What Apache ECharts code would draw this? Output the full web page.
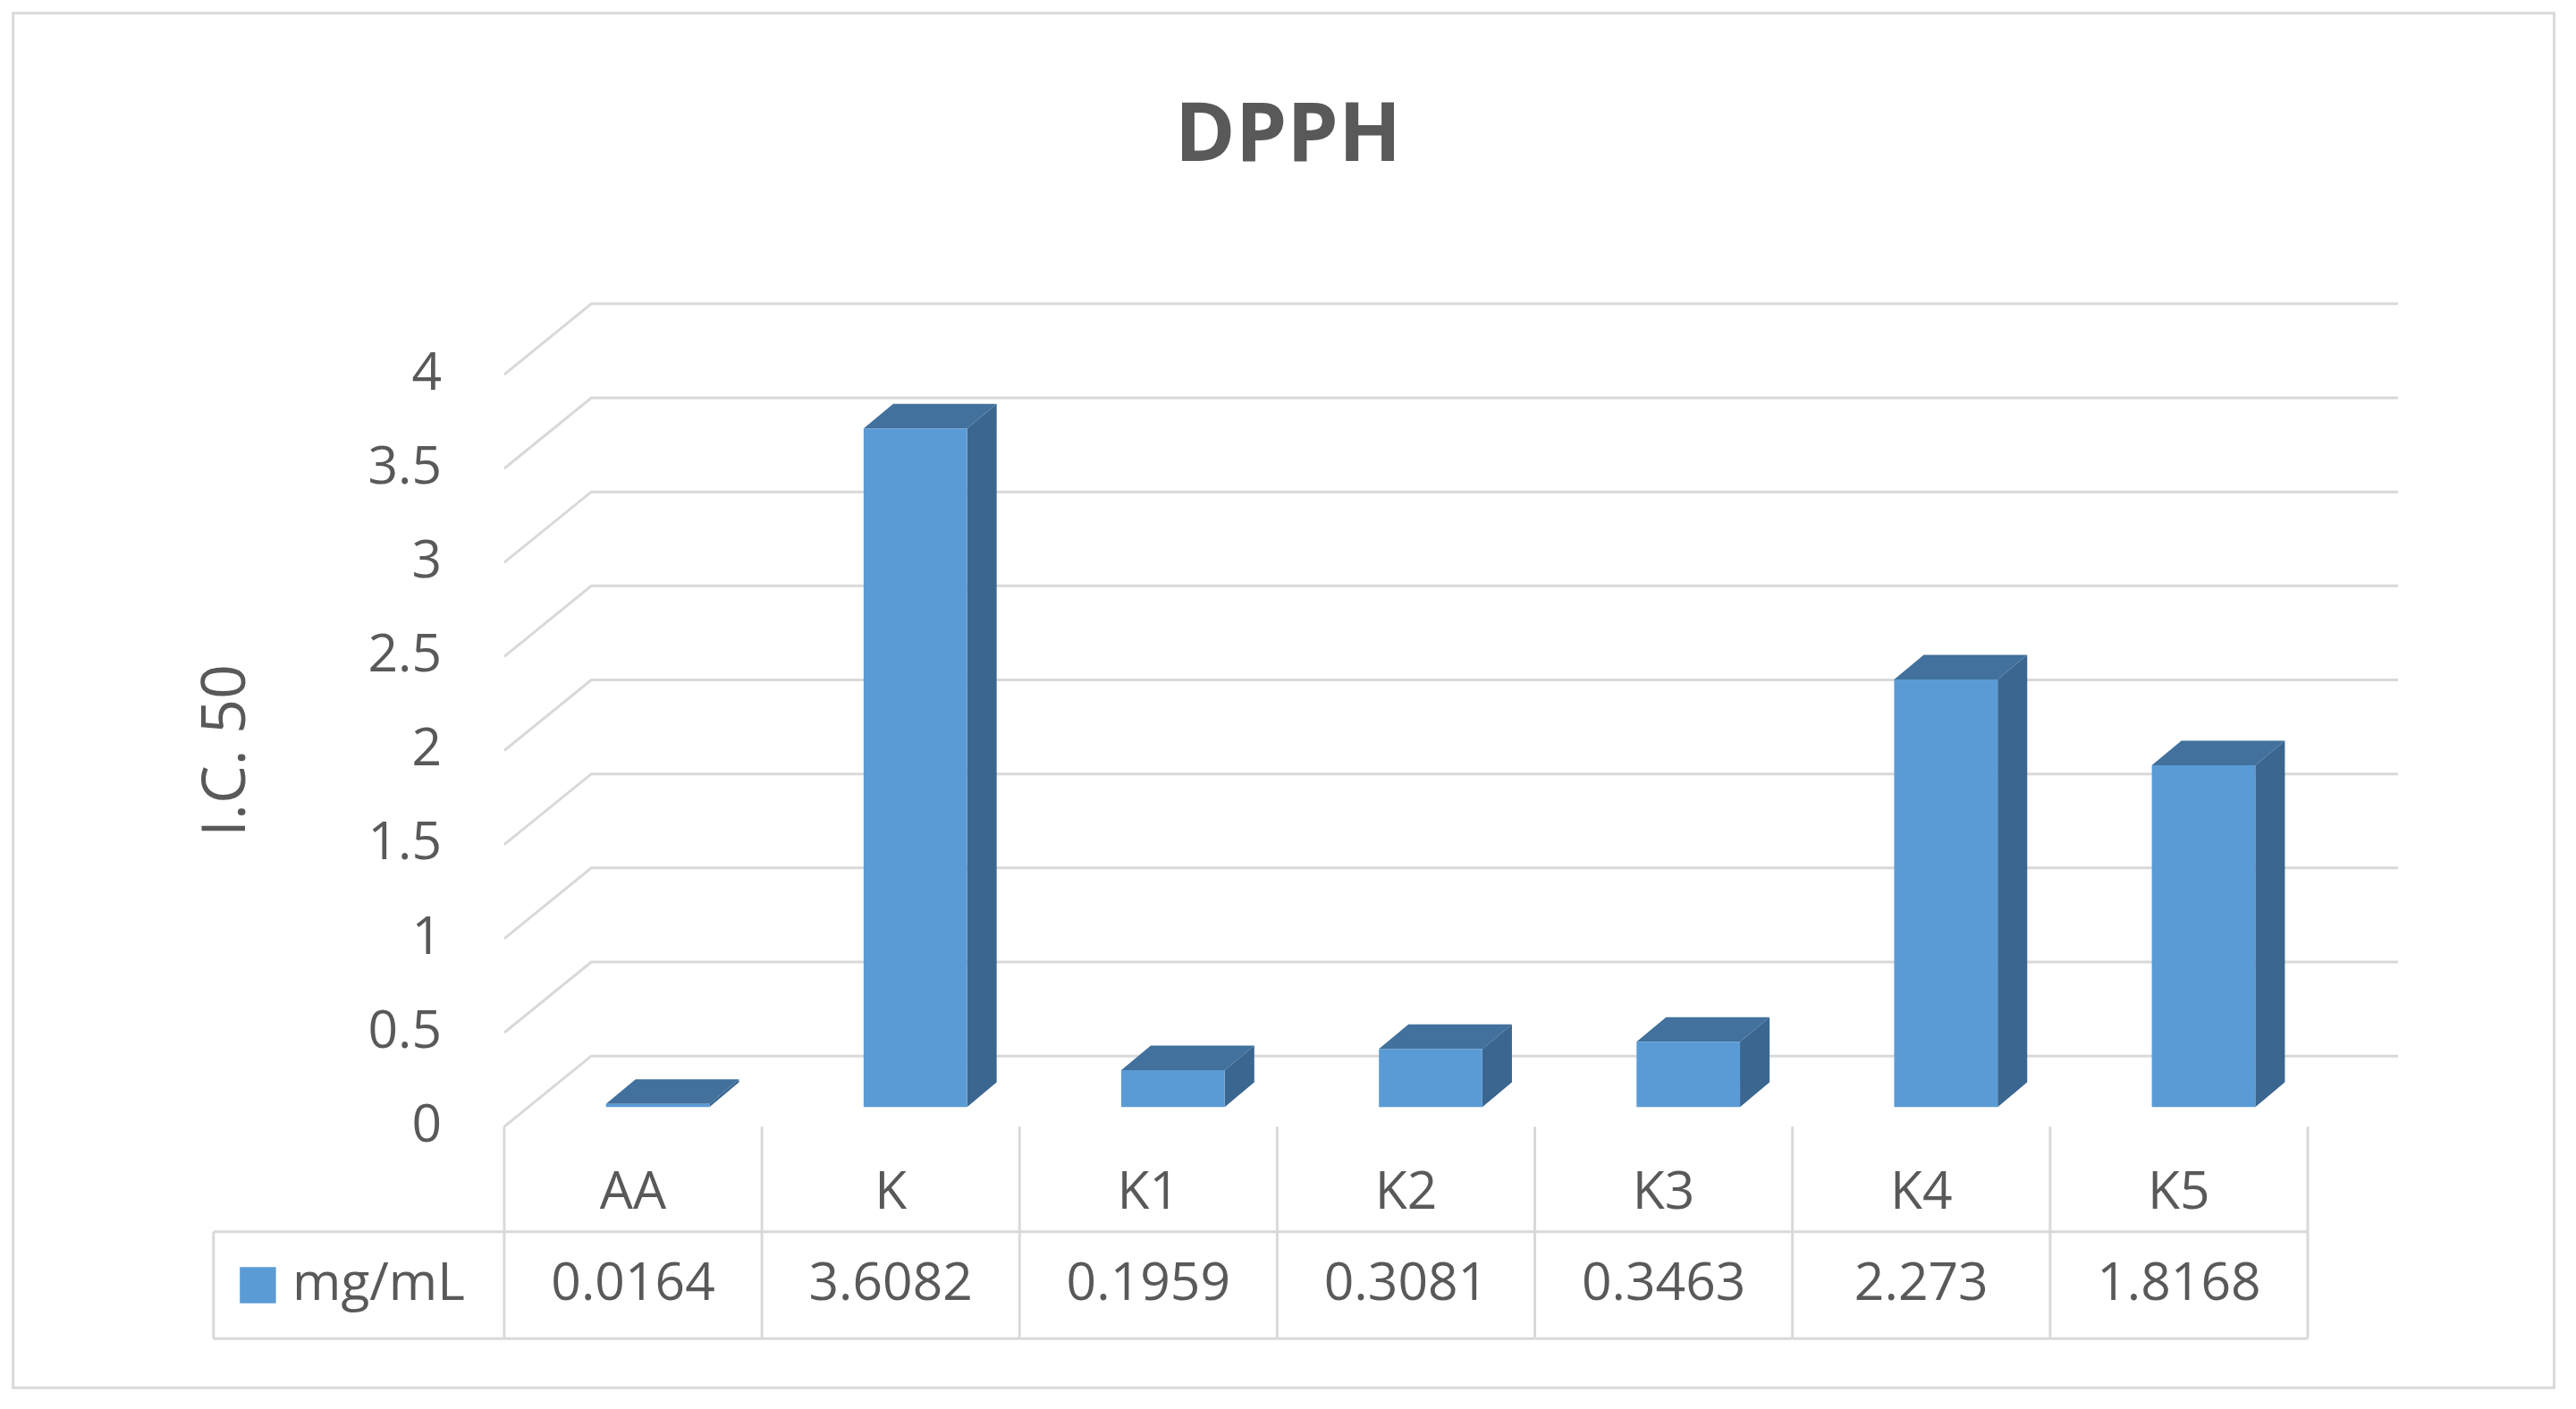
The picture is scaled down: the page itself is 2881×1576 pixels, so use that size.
<!DOCTYPE html>
<html><head><meta charset="utf-8">
<script src="https://cdn.jsdelivr.net/npm/echarts@6/dist/echarts.min.js"></script>
<style>html,body{margin:0;padding:0;background:#fff}#c{width:2881px;height:1576px}</style>
</head><body><div id="c"></div>
<script>
var categories = ['AA','K','K1','K2','K3','K4','K5'];
var values = [0.0164, 3.6082, 0.1959, 0.3081, 0.3463, 2.273, 1.8168];
var valueLabels = ['0.0164','3.6082','0.1959','0.3081','0.3463','2.273','1.8168'];
var ticks = [0,0.5,1,1.5,2,2.5,3,3.5,4];
var seriesName = 'mg/mL';

var S = 1.837;
var DX = 53*S, DY = 43*S;
var BX = 15*S, BY = -12*S, BW = 63*S, SDX = 18*S, SDY = 15*S;
var FONT = 'Open Sans';
var TXT = '#595959', GRID = '#D9D9D9';

var chart = echarts.init(document.getElementById('c'));
chart.setOption({
  animation:false,
  backgroundColor:'#fff',
  title:{text:'DPPH',left:'center',top:56*S,textStyle:{fontFamily:FONT,fontSize:50*S,fontWeight:'bold',color:TXT}},
  graphic:[{type:'rect',shape:{x:8*S,y:8*S,width:1547*S,height:837*S},style:{fill:'none',stroke:GRID,lineWidth:3}}],
  grid:{left:307*S,width:1098*S,top:228*S,height:458*S},
  xAxis:{type:'category',data:categories,axisLine:{show:false},axisTick:{show:false},axisLabel:{show:false},splitLine:{show:false}},
  yAxis:{type:'value',min:0,max:4,interval:0.5,name:'I.C. 50',nameLocation:'middle',nameGap:150*S,
    nameTextStyle:{fontFamily:FONT,fontSize:37*S,color:TXT},
    axisLine:{show:false},axisTick:{show:false},splitLine:{show:false},
    axisLabel:{fontFamily:FONT,fontSize:32*S,color:TXT,margin:38*S}},
  series:[
    {type:'custom',z:1,data:ticks.map(function(t){return [0,t];}),
     renderItem:function(params,api){
       var cs=params.coordSys; var y=api.coord([0,api.value(1)])[1];
       var l=cs.x, r=cs.x+cs.width;
       return {type:'polyline',shape:{points:[[l,y],[l+DX,y-DY],[r+55*S,y-DY]]},style:{stroke:GRID,lineWidth:3,fill:'none'}};
     }},
    {type:'custom',z:3,data:values.map(function(v,i){return [i,v];}),
     renderItem:function(params,api){
       var i=api.value(0), v=api.value(1);
       var cx=api.coord([i,0])[0]+BX;
       var yb=api.coord([i,0])[1]+BY, yt=api.coord([i,v])[1]+BY;
       var xl=cx-BW/2, xr=cx+BW/2;
       return {type:'group',children:[
         {type:'polygon',shape:{points:[[xr,yt],[xr+SDX,yt-SDY],[xr+SDX,yb-SDY],[xr,yb]]},style:{fill:'#3B6690'}},
         {type:'polygon',shape:{points:[[xl,yt],[xl+SDX,yt-SDY],[xr+SDX,yt-SDY],[xr,yt]]},style:{fill:'#41719C'}},
         {type:'rect',shape:{x:xl,y:yt,width:BW,height:yb-yt},style:{fill:'#5B9BD5'}}
       ]};
     }},
    {type:'custom',z:4,data:values.map(function(v,i){return [i,v];}),
     renderItem:function(params,api){
       var i=api.value(0);
       var cx=api.coord([i,0])[0], y0=api.coord([i,0])[1];
       var w=api.size([1,0])[0];
       var y1=y0+64*S, y2=y0+129*S;
       var ls={stroke:GRID,lineWidth:3};
       var ch=[
         {type:'line',shape:{x1:cx+w/2,y1:y0,x2:cx+w/2,y2:y2},style:ls},
         {type:'line',shape:{x1:cx-w/2,y1:y1,x2:cx+w/2,y2:y1},style:ls},
         {type:'line',shape:{x1:cx-w/2,y1:y2,x2:cx+w/2,y2:y2},style:ls},
         {type:'text',style:{text:categories[i],x:cx,y:(y0+y1)/2+9*S,align:'center',verticalAlign:'middle',fontFamily:FONT,fontSize:32*S,fill:TXT}},
         {type:'text',style:{text:valueLabels[i],x:cx,y:(y1+y2)/2,align:'center',verticalAlign:'middle',fontFamily:FONT,fontSize:32*S,fill:TXT}}
       ];
       if(i===0){
         var lx=130*S;
         ch.push({type:'line',shape:{x1:cx-w/2,y1:y0,x2:cx-w/2,y2:y2},style:ls});
         ch.push({type:'line',shape:{x1:lx,y1:y1,x2:cx-w/2,y2:y1},style:ls});
         ch.push({type:'line',shape:{x1:lx,y1:y2,x2:cx-w/2,y2:y2},style:ls});
         ch.push({type:'line',shape:{x1:lx,y1:y1,x2:lx,y2:y2},style:ls});
         ch.push({type:'rect',shape:{x:146*S,y:(y1+y2)/2-11*S,width:22*S,height:22*S},style:{fill:'#5B9BD5'}});
         ch.push({type:'text',style:{text:seriesName,x:178*S,y:(y1+y2)/2,verticalAlign:'middle',fontFamily:FONT,fontSize:32*S,fill:TXT}});
       }
       return {type:'group',children:ch};
     }}
  ]
});
</script></body></html>
